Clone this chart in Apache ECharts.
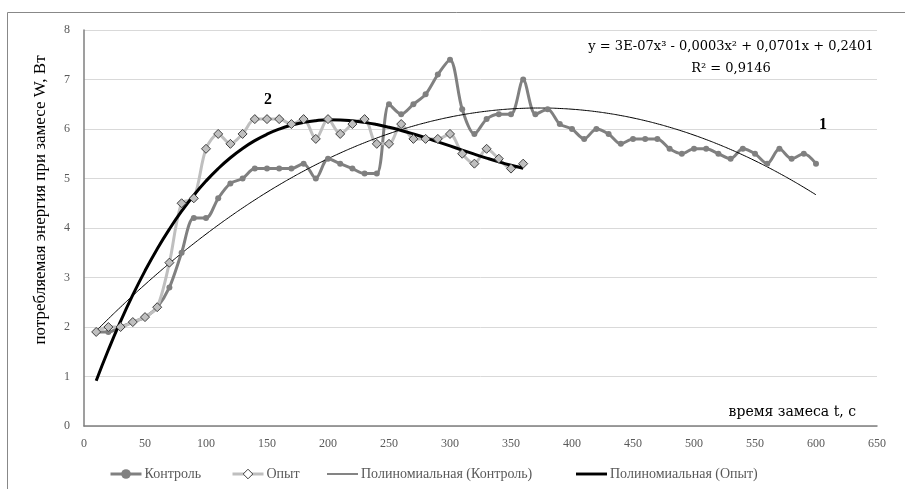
<!DOCTYPE html>
<html><head><meta charset="utf-8">
<script src="https://cdn.jsdelivr.net/npm/echarts@6/dist/echarts.min.js"></script>
<style>html,body{margin:0;padding:0;background:#fff}#c{width:905px;height:489px}</style>
</head><body><div id="c"></div>
<script>
// ---- data ----
const controlT = [10,20,30,40,50,60,70,80,90,100,110,120,130,140,150,160,170,180,190,200,210,220,230,240,250,260,270,280,290,300,310,320,330,340,350,360,370,380,390,400,410,420,430,440,450,460,470,480,490,500,510,520,530,540,550,560,570,580,590,600];
const controlW = [1.9,1.9,2.0,2.1,2.2,2.4,2.8,3.5,4.2,4.2,4.6,4.9,5.0,5.2,5.2,5.2,5.2,5.3,5.0,5.4,5.3,5.2,5.1,5.1,6.5,6.3,6.5,6.7,7.1,7.4,6.4,5.9,6.2,6.3,6.3,7.0,6.3,6.4,6.1,6.0,5.8,6.0,5.9,5.7,5.8,5.8,5.8,5.6,5.5,5.6,5.6,5.5,5.4,5.6,5.5,5.3,5.6,5.4,5.5,5.3];
const opytT = [10,20,30,40,50,60,70,80,90,100,110,120,130,140,150,160,170,180,190,200,210,220,230,240,250,260,270,280,290,300,310,320,330,340,350,360];
const opytW = [1.9,2.0,2.0,2.1,2.2,2.4,3.3,4.5,4.6,5.6,5.9,5.7,5.9,6.2,6.2,6.2,6.1,6.2,5.8,6.2,5.9,6.1,6.2,5.7,5.7,6.1,5.8,5.8,5.8,5.9,5.5,5.3,5.6,5.4,5.2,5.3];
const seriesNames = ['Контроль','Опыт','Полиномиальная (Контроль)','Полиномиальная (Опыт)'];
const xTicks = {min:0, max:650, step:50};
const yTicks = {min:0, max:8, step:1};
const xAxisTitle = 'время замеса t, с';
const yAxisTitle = 'потребляемая энергия при замесе W, Вт';
const equationText = 'y = 3E-07x³ - 0,0003x² + 0,0701x + 0,2401';
const r2Text = 'R² = 0,9146';
const curveLabels = ['1','2'];

// least squares polynomial trend (like a spreadsheet trendline)
function polyfit(xs, ys, order){
  const s = 100; const n = order+1;
  const A = Array.from({length:n},()=>new Array(n+1).fill(0));
  for(let k=0;k<xs.length;k++){
    const x = xs[k]/s;
    for(let i=0;i<n;i++){
      for(let j=0;j<n;j++) A[i][j]+=Math.pow(x,i+j);
      A[i][n]+=ys[k]*Math.pow(x,i);
    }
  }
  for(let i=0;i<n;i++){
    let p=i; for(let r=i+1;r<n;r++) if(Math.abs(A[r][i])>Math.abs(A[p][i])) p=r;
    [A[i],A[p]]=[A[p],A[i]];
    for(let r=0;r<n;r++){ if(r===i) continue; const f=A[r][i]/A[i][i]; for(let c=i;c<=n;c++) A[r][c]-=f*A[i][c]; }
  }
  const coef = A.map((row,i)=>row[n]/row[i]);
  return x => coef.reduce((acc,c,i)=>acc+c*Math.pow(x/s,i),0);
}
const fC = polyfit(controlT, controlW, 2);
const fO = polyfit(opytT, opytW, 3);
const trendC = controlT.map(t=>[t, fC(t)]);
const trendO = opytT.map(t=>[t, fO(t)]);

const FONT = 'Liberation Serif';
const WIDE = 'DejaVu Serif';
const legendLefts = [104, 226, 322, 571];
const legendItems = [
  {name:seriesNames[0], lineStyle:{width:3}},
  {name:seriesNames[1], itemStyle:{color:'#ffffff', borderColor:'#404040', borderWidth:1}, lineStyle:{width:3}},
  {name:seriesNames[2], icon:'path://M0,0M32,12M0,5.5H32V6.5H0Z'},
  {name:seriesNames[3], icon:'path://M0,0M32,12M0,4.5H32V7.5H0Z'}
];
const chart = echarts.init(document.getElementById('c'));
chart.setOption({
  animation:false,
  backgroundColor:'#fff',
  grid:{left:84, right:28, top:30, bottom:63},
  xAxis:{type:'value', min:xTicks.min, max:xTicks.max, interval:xTicks.step,
    axisLine:{show:true, lineStyle:{color:'#7f7f7f', width:1.5}},
    axisTick:{show:false}, splitLine:{show:false},
    axisLabel:{color:'#595959', fontFamily:FONT, fontSize:12, margin:12}},
  yAxis:{type:'value', min:yTicks.min, max:yTicks.max, interval:yTicks.step,
    axisLine:{show:true, lineStyle:{color:'#7f7f7f', width:1.5}},
    axisTick:{show:false},
    splitLine:{lineStyle:{color:'#d9d9d9', width:1}},
    axisLabel:{color:'#595959', fontFamily:FONT, fontSize:12, margin:14}},
  legend: legendItems.map((it,i)=>({left:legendLefts[i], top:462, itemWidth:31, itemHeight:12,
    textStyle:{color:'#595959', fontFamily:FONT, fontSize:14, padding:[0,0,0,-2]},
    data:[it]})),
  series:[
    {name:seriesNames[0], type:'line', data:controlT.map((t,i)=>[t,controlW[i]]), smooth:0.3,
      symbol:'circle', symbolSize:6, lineStyle:{color:'#808080', width:3}, itemStyle:{color:'#808080'}},
    {name:seriesNames[1], type:'line', data:opytT.map((t,i)=>[t,opytW[i]]), smooth:0.3,
      symbol:'diamond', symbolSize:9, lineStyle:{color:'#bfbfbf', width:3},
      itemStyle:{color:'#bfbfbf', borderColor:'#404040', borderWidth:1}},
    {name:seriesNames[2], type:'line', data:trendC, smooth:true, symbol:'none',
      lineStyle:{color:'#000', width:1}, itemStyle:{color:'#000'}},
    {name:seriesNames[3], type:'line', data:trendO, smooth:true, symbol:'none',
      lineStyle:{color:'#000', width:3}, itemStyle:{color:'#000'}}
  ],
  graphic:[
    {type:'rect', shape:{x:7.5, y:12.5, width:1200, height:1200}, style:{fill:'none', stroke:'#888', lineWidth:1}, silent:true},
    {type:'text', x:41, y:200, rotation:Math.PI/2, style:{text:yAxisTitle, fill:'#000', font:'17px '+FONT, align:'center', verticalAlign:'middle'}},
    {type:'text', x:856, y:412, style:{text:xAxisTitle, fill:'#000', font:'14px '+WIDE, align:'right', verticalAlign:'middle'}},
    {type:'text', x:731, y:47, style:{text:equationText, fill:'#000', font:'13px '+WIDE, align:'center', verticalAlign:'middle'}},
    {type:'text', x:731, y:69, style:{text:r2Text, fill:'#000', font:'13px '+WIDE, align:'center', verticalAlign:'middle'}},
    {type:'text', x:823, y:125, style:{text:curveLabels[0], fill:'#000', font:'bold 16px '+FONT, align:'center', verticalAlign:'middle'}},
    {type:'text', x:268, y:100, style:{text:curveLabels[1], fill:'#000', font:'bold 16px '+FONT, align:'center', verticalAlign:'middle'}}
  ]
});
</script></body></html>
